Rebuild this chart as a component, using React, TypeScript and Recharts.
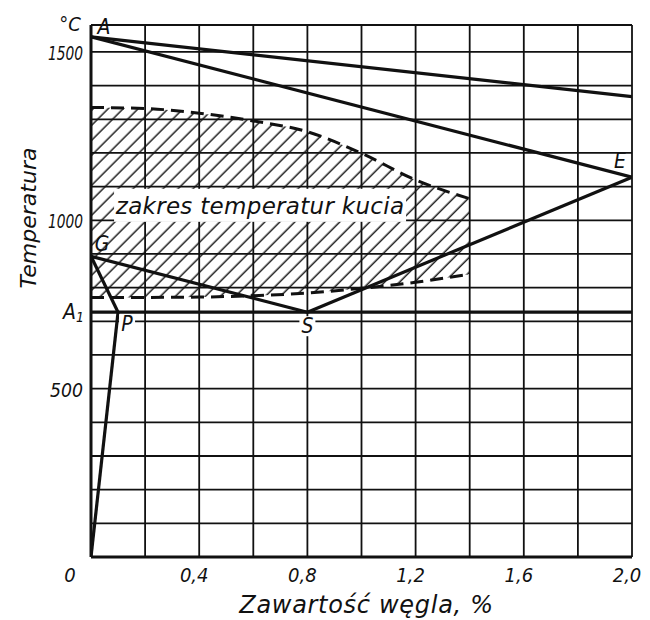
import React from 'react';
import { ComposedChart, Line, Area, XAxis, YAxis, CartesianGrid, ReferenceDot } from 'recharts';

// carbon content, % (x) and temperature, °C (y)
const xTicks = [0, 0.2, 0.4, 0.6, 0.8, 1.0, 1.2, 1.4, 1.6, 1.8, 2.0];
const xTickLabels = ['0', '', '0,4', '', '0,8', '', '1,2', '', '1,6', '', '2,0'];
const yTicks = [0, 100, 200, 300, 400, 500, 600, 700, 800, 900, 1000, 1100, 1200, 1300, 1400, 1500];
const yTickLabels = ['', '', '', '', '', '500', '', '', '', '', '1000', '', '', '', '', '1500'];

const liquidus = [{ c: 0, t: 1545 }, { c: 2.0, t: 1367 }];
const solidusAE = [{ c: 0, t: 1545 }, { c: 2.0, t: 1128 }];
const lineGS = [{ c: 0, t: 893 }, { c: 0.8, t: 727 }];
const lineSE = [{ c: 0.8, t: 727 }, { c: 2.0, t: 1128 }];
const lineGP = [{ c: 0, t: 893 }, { c: 0.1, t: 727 }];
const lineP0 = [{ c: 0.1, t: 727 }, { c: 0, t: 0 }];
const lineA1 = [{ c: 0, t: 727 }, { c: 2.0, t: 727 }];

// forging range (hatched)
const forgeC = [0, 0.2, 0.4, 0.6, 0.8, 1.0, 1.2, 1.4];
const forgeTop = [1335, 1332, 1318, 1295, 1263, 1199, 1120, 1064];
const forgeBottom = [771, 771, 772, 776, 784, 798, 816, 840];

const pointNames = ['A', 'G', 'P', 'S', 'E'];
const pointC = [0, 0, 0.1, 0.8, 2.0];
const pointT = [1545, 893, 727, 727, 1128];

const forgeData = forgeC.map((c, i) => ({ c, hi: forgeTop[i], lo: forgeBottom[i] }));

const INK = '#111';
const narrow = "'DejaVu Sans Condensed', 'DejaVu Sans', sans-serif";
const sans = "'DejaVu Sans', sans-serif";

// label offsets for the point letters
const letterOffset: Record<string, [number, number, boolean]> = {
  A: [13, -10, false],
  G: [11, -12, false],
  P: [9, 12, true],
  S: [0, 14, true],
  E: [-12, -16, false],
};

const XTick = (props: any) => {
  const { x, payload } = props;
  const i = xTicks.indexOf(payload.value);
  const label = xTickLabels[i];
  if (!label) return null;
  const dx = payload.value === 0 ? -21 : -5;
  return (
    <text x={x + dx} y={575} textAnchor="middle" dominantBaseline="central"
      fontFamily={narrow} fontStretch="condensed" fontStyle="italic" fontSize={20} fill={INK}>
      {label}
    </text>
  );
};

const YTick = (props: any) => {
  const { y, payload } = props;
  const i = yTicks.indexOf(payload.value);
  const label = yTickLabels[i];
  if (!label) return null;
  const w = label.length === 3 ? 33 : 35;
  return (
    <text x={83 - w} y={y + 1} dominantBaseline="central" textLength={w} lengthAdjust="spacingAndGlyphs"
      fontFamily={narrow} fontStretch="condensed" fontStyle="italic" fontSize={20} fill={INK}>
      {label}
    </text>
  );
};

const LetterLabel = (name: string) => (props: any) => {
  const { viewBox } = props;
  const [dx, dy, bg] = letterOffset[name];
  const cx = viewBox.x + viewBox.width / 2 + dx;
  const cy = viewBox.y + viewBox.height / 2 + dy;
  return (
    <g>
      {bg && <rect x={cx - 8} y={cy - 10} width={16} height={20} fill="#fff" />}
      <text x={cx} y={cy} textAnchor="middle" dominantBaseline="central"
        fontFamily={narrow} fontStretch="condensed" fontStyle="italic" fontSize={21} fill={INK}>
        {name}
      </text>
    </g>
  );
};

const A1Label = (props: any) => {
  const { viewBox } = props;
  const cy = viewBox.y + viewBox.height / 2;
  return (
    <text x={63} y={cy} dominantBaseline="central" fontFamily={narrow} fontStretch="condensed"
      fontStyle="italic" fontSize={21} fill={INK}>
      A<tspan fontSize={14} dy={5}>1</tspan>
    </text>
  );
};

const ForgeLabel = (props: any) => {
  const { viewBox } = props;
  const cx = viewBox.x + viewBox.width / 2;
  const cy = viewBox.y + viewBox.height / 2;
  return (
    <g>
      <rect x={cx - 146} y={cy - 17} width={292} height={33} fill="#fff" />
      <text x={cx} y={cy} textAnchor="middle" dominantBaseline="central" letterSpacing={0.3}
        fontFamily={sans} fontStyle="italic" fontSize={23} fill={INK}>
        zakres temperatur kucia
      </text>
    </g>
  );
};

const YTitle = () => (
  <g>
    <text x={70} y={24} textAnchor="middle" dominantBaseline="central"
      fontFamily={narrow} fontStretch="condensed" fontStyle="italic" fontSize={20} fill={INK}>°C</text>
    <text x={28} y={218} textAnchor="middle" dominantBaseline="central"
      transform="rotate(-90, 28, 218)" fontFamily={sans} fontStyle="italic"
      fontSize={22} fill={INK}>Temperatura</text>
  </g>
);

const XTitle = (props: any) => {
  const { viewBox } = props;
  const cx = viewBox.x + viewBox.width / 2 + 5;
  return (
    <text x={cx} y={605} textAnchor="middle" dominantBaseline="central" letterSpacing={0.7}
      fontFamily={sans} fontStyle="italic" fontSize={24} fill={INK}>
      Zawartość węgla, %
    </text>
  );
};

const solid = { stroke: INK, strokeWidth: 3.2, dot: false, activeDot: false, isAnimationActive: false, type: 'linear' as const };

export default function App() {
  return (
    <div style={{ position: 'absolute', left: 0, top: 0, width: 650, height: 620, background: '#fff' }}>
      <ComposedChart width={650} height={620} margin={{ top: 25, right: 18, bottom: 0, left: 21 }}>
        <defs>
          <pattern id="hatch" patternUnits="userSpaceOnUse" width={10.6} height={10.6} patternTransform="rotate(45)">
            <line x1={5} y1={0} x2={5} y2={10.6} stroke={INK} strokeWidth={1.4} />
          </pattern>
        </defs>
        <CartesianGrid stroke={INK} strokeWidth={1.8} />
        <XAxis dataKey="c" type="number" domain={[0, 2]} ticks={xTicks} tick={<XTick />}
          tickLine={false} axisLine={{ stroke: INK, strokeWidth: 3 }} height={63}
          label={<XTitle />} allowDataOverflow />
        <XAxis xAxisId="top" orientation="top" type="number" domain={[0, 2]} tick={false}
          tickLine={false} axisLine={{ stroke: INK, strokeWidth: 2.5 }} height={0} />
        <YAxis type="number" domain={[0, 1580]} ticks={yTicks} tick={<YTick />} tickLine={false}
          axisLine={{ stroke: INK, strokeWidth: 3 }} width={70} label={<YTitle />} allowDataOverflow />
        <YAxis yAxisId="right" orientation="right" type="number" domain={[0, 1580]} tick={false}
          tickLine={false} axisLine={{ stroke: INK, strokeWidth: 2.5 }} width={0} />

        <Area data={forgeData} dataKey={(d: any) => [d.lo, d.hi]} type="monotone" stroke="none"
          fill="url(#hatch)" fillOpacity={1} isAnimationActive={false} activeDot={false} />
        <Line data={forgeData} dataKey="hi" type="monotone" stroke={INK} strokeWidth={3}
          strokeDasharray="13 7" dot={false} activeDot={false} isAnimationActive={false} />
        <Line data={forgeData} dataKey="lo" type="monotone" stroke={INK} strokeWidth={3}
          strokeDasharray="13 7" dot={false} activeDot={false} isAnimationActive={false} />

        <ReferenceDot x={0.625} y={1043} r={0} label={<ForgeLabel />} />

        <Line data={liquidus} dataKey="t" {...solid} />
        <Line data={solidusAE} dataKey="t" {...solid} />
        <Line data={lineGS} dataKey="t" {...solid} />
        <Line data={lineSE} dataKey="t" {...solid} />
        <Line data={lineGP} dataKey="t" {...solid} />
        <Line data={lineP0} dataKey="t" {...solid} />
        <Line data={lineA1} dataKey="t" {...solid} />

        <ReferenceDot x={0} y={727} r={0} label={<A1Label />} ifOverflow="visible" />
        {pointNames.map((n, i) => (
          <ReferenceDot key={n} x={pointC[i]} y={pointT[i]} r={0} label={LetterLabel(n)} ifOverflow="visible" />
        ))}
      </ComposedChart>
    </div>
  );
}
